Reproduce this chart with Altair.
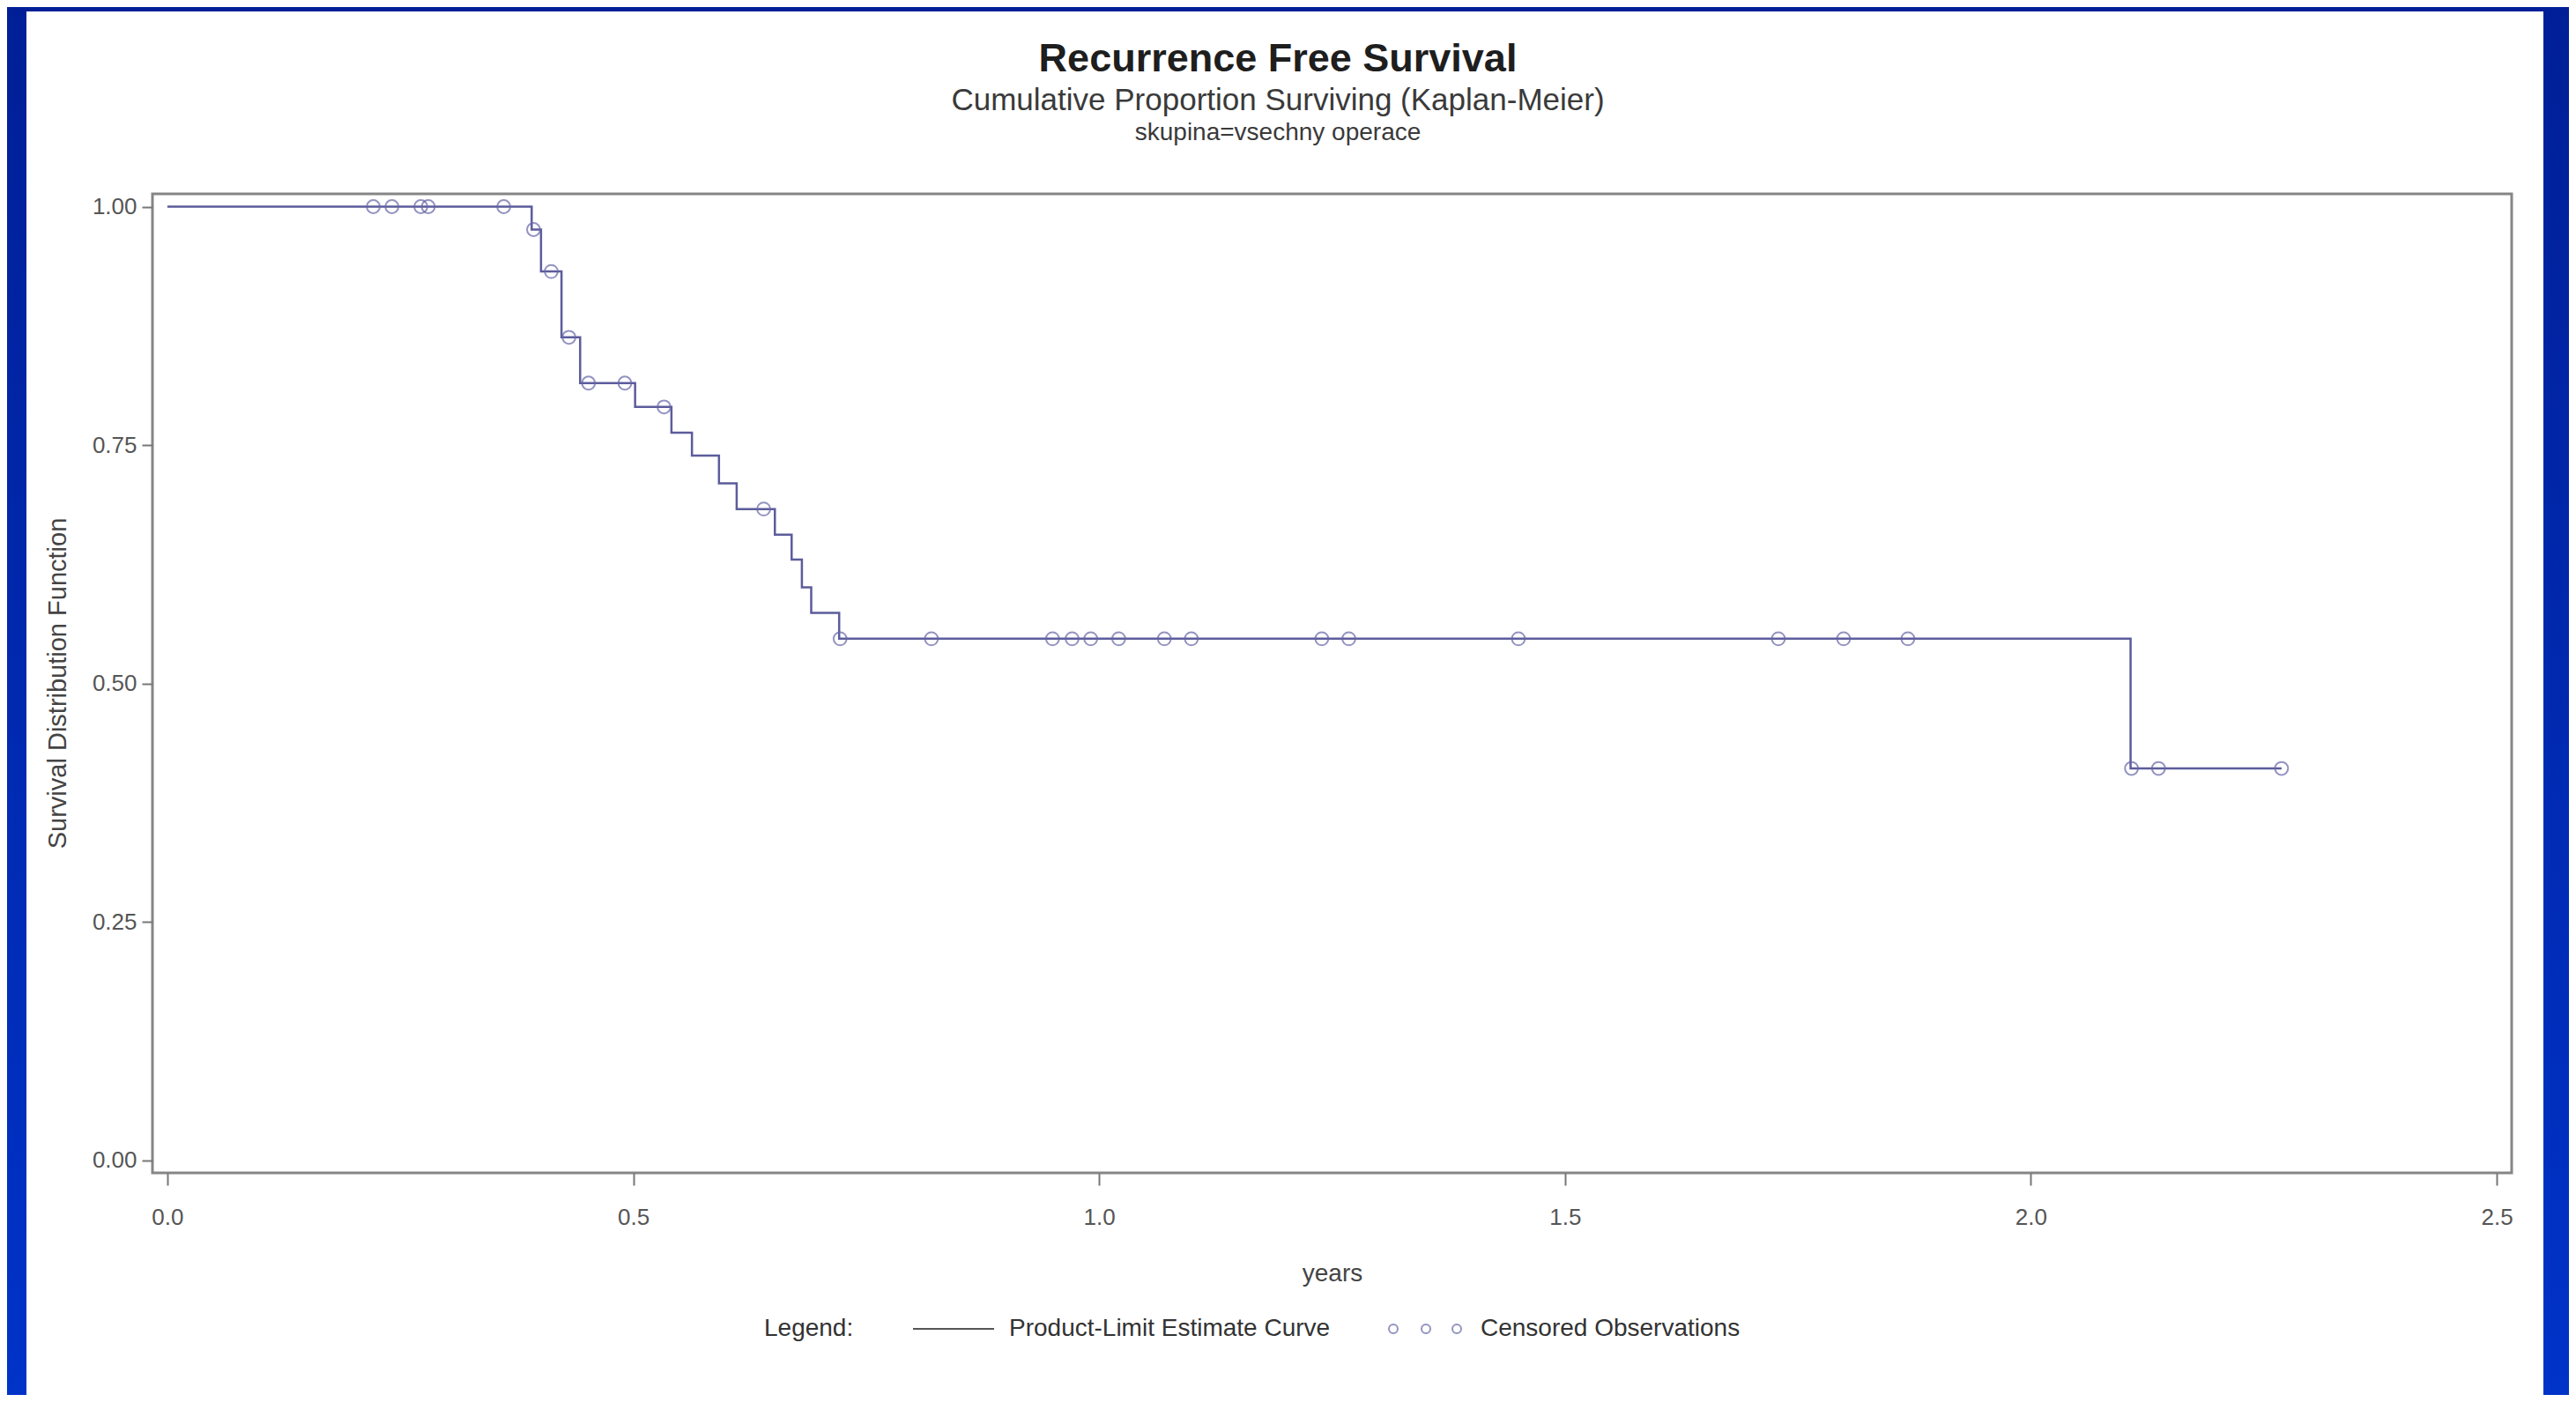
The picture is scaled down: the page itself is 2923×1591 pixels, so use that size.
import altair as alt
import pandas as pd

# ---- data ----
# Kaplan-Meier product-limit estimate: time (years) and survival after each step
step_time = [0.0, 0.391, 0.401, 0.423, 0.443, 0.502, 0.541, 0.563, 0.592, 0.611,
             0.652, 0.670, 0.681, 0.691, 0.721, 2.107, 2.269]
step_surv = [1.0, 0.976, 0.932, 0.863, 0.815, 0.790, 0.763, 0.739, 0.710, 0.683,
             0.656, 0.630, 0.601, 0.574, 0.547, 0.411, 0.411]

# censored observations
cens_time = [0.221, 0.241, 0.272, 0.280, 0.361, 0.393, 0.412, 0.431, 0.452, 0.491,
             0.533, 0.640, 0.722, 0.820, 0.950, 0.971, 0.991, 1.021, 1.070, 1.099,
             1.239, 1.268, 1.450, 1.729, 1.799, 1.868, 2.108, 2.137, 2.269]
cens_surv = [1.0, 1.0, 1.0, 1.0, 1.0, 0.976, 0.932, 0.863, 0.815, 0.815,
             0.790, 0.683, 0.547, 0.547, 0.547, 0.547, 0.547, 0.547, 0.547, 0.547,
             0.547, 0.547, 0.547, 0.547, 0.547, 0.547, 0.411, 0.411, 0.411]

x_ticks = [0.0, 0.5, 1.0, 1.5, 2.0, 2.5]
y_ticks = [0.0, 0.25, 0.5, 0.75, 1.0]

title_text = "Recurrence Free Survival"
subtitle_text = "Cumulative Proportion Surviving (Kaplan-Meier)"
group_text = "skupina=vsechny operace"
x_title = "years"
y_title = "Survival Distribution Function"
legend_label = "Legend:"
legend_curve = "Product-Limit Estimate Curve"
legend_cens = "Censored Observations"

# ---- layout ----
FONT = "Liberation Sans"
W, H = 2677, 1111
PL, PT, PR, PB = 165, 212, 65, 252
TW, TH = W + PL + PR, H + PT + PB
OX, OY = 173, 220  # plot origin in page pixels


def rx(v):
    return v - OX


def ry(v):
    return v - OY


LINE_COLOR = "#5c5c9c"
PT_COLOR = "#6666a8"

step_df = pd.DataFrame({"time": step_time, "surv": step_surv})
cens_df = pd.DataFrame({"time": cens_time, "surv": cens_surv})
one = pd.DataFrame({"k": [0]})

x_scale = alt.Scale(domain=[-0.016, 2.516], nice=False, zero=False)
y_scale = alt.Scale(domain=[-0.013, 1.0134], nice=False, zero=False)

x_axis = alt.Axis(values=x_ticks, format=".1f", title=x_title, titleFontSize=28,
                  titleFontWeight="normal", titleColor="#444", titleY=114,
                  titleBaseline="middle", labelFontSize=26, labelColor="#555",
                  labelPadding=23, labelFlush=False, tickSize=14, tickColor="#777",
                  tickWidth=2, domain=False, grid=False, zindex=1)
y_axis = alt.Axis(values=y_ticks, format=".2f", title=y_title, titleFontSize=29,
                  titleFontWeight="normal", titleColor="#444", titleX=-108,
                  titleY=555, titleBaseline="middle", labelFontSize=26,
                  labelColor="#555", labelPadding=6, labelFlush=False, tickSize=12,
                  tickColor="#777", tickWidth=2, domain=False, grid=False, zindex=1)

X = alt.X("time:Q", scale=x_scale, axis=x_axis)
Y = alt.Y("surv:Q", scale=y_scale, axis=y_axis)

bg = alt.Chart(one).mark_rect(
    fill=alt.Gradient(gradient="linear",
                      stops=[alt.GradientStop(color="#001f97", offset=0),
                             alt.GradientStop(color="#0033c8", offset=1)],
                      x1=0, x2=0, y1=0, y2=1)
).encode(x=alt.value(-PL), x2=alt.value(TW - PL), y=alt.value(-PT), y2=alt.value(TH - PT))

panel = alt.Chart(one).mark_rect(fill="white").encode(
    x=alt.value(rx(30)), x2=alt.value(rx(2886)), y=alt.value(ry(13)), y2=alt.value(TH - PT))

frame = alt.Chart(one).mark_rect(fill="transparent", stroke="#868686", strokeWidth=3).encode(
    x=alt.value(0), x2=alt.value(W), y=alt.value(0), y2=alt.value(H))

curve = alt.Chart(step_df).mark_line(interpolate="step-after", color=LINE_COLOR,
                                     strokeWidth=2.5).encode(x=X, y=Y)

cens = alt.Chart(cens_df).mark_point(shape="circle", filled=False, size=220,
                                     strokeWidth=2, color=PT_COLOR).encode(x=X, y=Y)


def label(text, x, y, size, color="#333", weight="normal", align="center"):
    return alt.Chart(one).mark_text(fontSize=size, fontWeight=weight, color=color,
                                    align=align, baseline="middle", font=FONT).encode(
        x=alt.value(x), y=alt.value(y), text=alt.value(text))


t1 = label(title_text, rx(1450), ry(67), 45, color="#1e1e1e", weight="bold")
t2 = label(subtitle_text, rx(1450), ry(114), 35, color="#3a3a3a")
t3 = label(group_text, rx(1450), ry(151), 28, color="#3a3a3a")

LY = ry(1508)
leg1 = label(legend_label, rx(867), LY, 28, color="#333", align="left")
leg_line = alt.Chart(one).mark_rule(color="#555", strokeWidth=2).encode(
    x=alt.value(rx(1036)), x2=alt.value(rx(1128)), y=alt.value(LY))
leg2 = label(legend_curve, rx(1145), LY, 28, color="#333", align="left")
leg_pts = [alt.Chart(one).mark_point(shape="circle", filled=False, size=100,
                                     strokeWidth=2, color=PT_COLOR).encode(
    x=alt.value(rx(px)), y=alt.value(LY)) for px in (1581, 1618, 1653)]
leg3 = label(legend_cens, rx(1680), LY, 28, color="#333", align="left")

chart = alt.layer(
    bg, panel, curve, cens, frame, t1, t2, t3, leg1, leg_line, leg2, *leg_pts, leg3
).properties(
    width=W, height=H,
    padding={"left": PL, "top": PT, "right": PR, "bottom": PB},
    autosize=alt.AutoSizeParams(type="none"),
    background="#0028b0",
).configure(font=FONT).configure_view(strokeWidth=0)

chart.save("out.html", embed_options={"renderer": "svg", "actions": False})
